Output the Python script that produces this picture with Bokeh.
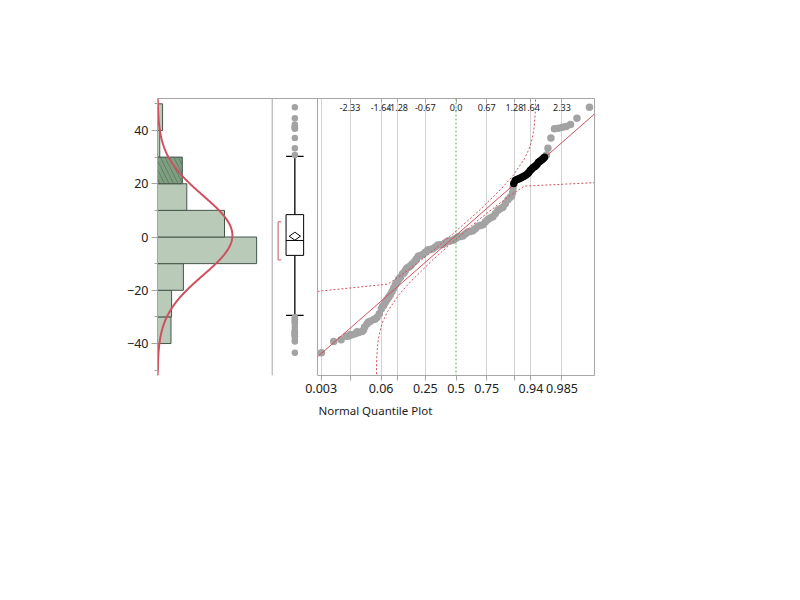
import math
import numpy as np
from bokeh.plotting import figure
from bokeh.models import (Range1d, LinearAxis, FixedTicker, Span,
                          Title, Grid)
from bokeh.embed import file_html
from bokeh.resources import INLINE

# ---------------- data ----------------
# histogram (bin lower edges, width 10) and counts
bin_lows = [-50, -40, -30, -20, -10, 0, 10, 20, 30, 40]
bin_counts = [1, 24, 25, 46, 176, 119, 52, 44, 4, 9]
bin_width = 10
selected_range = [20, 30]

# fitted normal
fit_mean = 0.6
fit_sd = 15.0

# box plot summary
q1, median, q3 = -6.9, -1.3, 8.4
whisker_low, whisker_high = -29.4, 30.3
mean_val, mean_ci = 0.3, 1.5
shortest_half = [-8.6, 5.7]

# normal quantile plot points (normal quantile, value)
nq_z = [-2.954, -2.684, -2.522, -2.406, -2.355, -2.32, -2.281, -2.208, -2.17, -2.136,
        -2.061, -2.03, -2.004, -1.952, -1.92, -1.879, -1.807, -1.77, -1.732, -1.682,
        -1.638, -1.61, -1.588, -1.550, -1.513, -1.478, -1.441, -1.404, -1.368, -1.331,
        -1.294, -1.259, -1.221, -1.171, -1.14, -1.112, -1.08, -1.039, -1.00, -0.965,
        -0.908, -0.871, -0.83, -0.783, -0.73, -0.673, -0.62, -0.564, -0.51, -0.454,
        -0.40, -0.344, -0.29, -0.235, -0.18, -0.125, -0.07, -0.015, 0.04, 0.094,
        0.15, 0.204, 0.26, 0.314, 0.37, 0.423, 0.48, 0.533, 0.59, 0.643,
        0.70, 0.752, 0.81, 0.862, 0.92, 0.971, 1.03, 1.081, 1.14, 1.191,
        1.22, 1.241, 1.252,
        1.268, 1.300, 1.338, 1.373, 1.410, 1.447, 1.482, 1.520, 1.557, 1.592,
        1.629, 1.667, 1.702, 1.739, 1.776, 1.811, 1.848, 1.886, 1.914, 1.943,
        1.987, 2.018, 2.083, 2.162, 2.250, 2.338, 2.419, 2.513, 2.654, 2.930]
nq_val = [-43.5, -39.2, -38.6, -37.3, -37.2, -36.6, -36.7, -36.3, -35.6, -35.9,
          -35.5, -34.9, -33.8, -32.6, -31.9, -31.6, -31.0, -30.8, -30.1, -28.8,
          -26.9, -25.9, -25.7, -24.5, -23.5, -22.6, -21.7, -20.5, -19.2, -17.9,
          -17.0, -15.9, -15.1, -13.8, -13.4, -12.6, -11.7, -11.3, -10.9, -10.1,
          -9.2, -8.4, -7.2, -6.9, -6.6, -5.7, -4.9, -4.7, -4.4, -3.8,
          -3.0, -2.9, -2.8, -2.2, -1.5, -1.4, -1.2, -0.7, 0.0, 0.2,
          0.4, 1.1, 1.9, 2.1, 2.3, 3.1, 4.0, 4.3, 4.6, 5.6,
          6.6, 7.1, 7.6, 8.7, 10.0, 10.6, 11.2, 12.5, 14.0, 14.9,
          15.4, 16.6, 18.4,
          20.1, 21.2, 21.6, 21.8, 22.1, 22.4, 22.7, 23.1, 23.6, 24.1,
          25.0, 25.6, 26.2, 26.6, 27.2, 28.1, 28.5, 29.0, 29.5, 29.9,
          30.8, 33.3, 37.2, 40.6, 40.8, 41.2, 41.5, 42.2, 44.6, 48.7]

# confidence bands (normal quantile, value)
upper_band_z = [-3.04, -1.5, -1.25, -1.0, -0.5, 0.0, 0.5, 1.0, 1.25, 1.5, 1.6, 1.65, 1.7, 1.72, 1.74, 1.748]
upper_band_y = [-20.4, -17.7, -14.9, -11.8, -5.1, 2.2, 9.8, 18.2, 23.0, 29.3, 32.9, 35.4, 39.3, 41.8, 46.9, 53.0]
lower_band_z = [-1.748, -1.74, -1.72, -1.7, -1.65, -1.6, -1.5, -1.25, -1.0, -0.5, 0.0, 0.5, 1.0, 1.25, 1.5, 3.04]
lower_band_y = [-53.0, -45.5, -40.4, -37.9, -34.0, -31.5, -27.9, -21.6, -16.8, -8.4, -0.8, 6.5, 13.2, 16.3, 19.1, 20.4]

# axes
y_major = [-40, -20, 0, 20, 40]
y_minor = [-50, -30, -10, 10, 30, 50]
prob_z_labeled = [-2.96, -1.645, -0.674, 0.0, 0.674, 1.645, 2.326]
prob_labels = ["0.003", "0.06", "0.25", "0.5", "0.75", "0.94", "0.985"]
prob_z_unlabeled = [-2.326, -1.282, 1.282]
z_ticks = [-2.326, -1.645, -1.282, -0.674, 0.0, 0.674, 1.282, 1.645, 2.326]
z_labels = ["-2.33", "-1.64", "-1.28", "-0.67", "0.0", "0.67", "1.28", "1.64", "2.33"]

# ---------------- styling ----------------
FONT = "Noto Sans"
FRAME = "#a6a6a6"
GRID = "#d2d2d2"
RED = "#cf4f5e"
POINT_GRAY = "#a3a3a3"
HIST_FILL = "#b9cab9"
HIST_LINE = "#44574a"
TXT = "#222222"

W, H = 700, 500
FL, FT, FW, FH = 157, 98, 437, 277

z_lo, z_hi = -3.04, 3.04
z_frame_left = -6.552

p = figure(width=W, height=H, output_backend="svg", toolbar_location=None,
           x_range=Range1d(z_frame_left, z_hi), y_range=Range1d(-52, 52),
           x_axis_type=None, y_axis_type=None,
           min_border_left=FL, min_border_top=FT,
           min_border_right=W - FL - FW, min_border_bottom=H - FT - FH)
p.outline_line_color = None
p.background_fill_color = "white"
p.border_fill_color = "white"

p.extra_x_ranges = {"hist": Range1d(0, 776), "box": Range1d(-2.532, 7.115)}

# ---- axes ----
yax = LinearAxis(ticker=FixedTicker(ticks=y_major, minor_ticks=y_minor))
yax.axis_line_color = FRAME
yax.major_tick_line_color = FRAME
yax.minor_tick_line_color = FRAME
yax.major_tick_out = 6
yax.major_tick_in = 0
yax.minor_tick_out = 3
yax.minor_tick_in = 0
yax.major_label_standoff = 3
yax.major_label_text_font = FONT
yax.major_label_text_font_size = "12.5px"
yax.major_label_text_color = TXT
p.add_layout(yax, "left")

xax = LinearAxis(ticker=FixedTicker(ticks=prob_z_labeled, minor_ticks=prob_z_unlabeled),
                 bounds=(z_lo, z_hi))
xax.major_label_overrides = {z: lab for z, lab in zip(prob_z_labeled, prob_labels)}
xax.axis_line_color = FRAME
xax.major_tick_line_color = FRAME
xax.minor_tick_line_color = FRAME
xax.major_tick_out = 5
xax.major_tick_in = 0
xax.minor_tick_out = 5
xax.minor_tick_in = 0
xax.major_label_standoff = 3
xax.major_label_text_font = FONT
xax.major_label_text_font_size = "12.5px"
xax.major_label_text_color = TXT
p.add_layout(xax, "below")

# top axis: frame top border + z-value ticks, labels drawn inside the frame
tax = LinearAxis(ticker=FixedTicker(ticks=z_ticks, minor_ticks=[]))
tax.major_label_overrides = {z: lab for z, lab in zip(z_ticks, z_labels)}
tax.axis_line_color = FRAME
tax.major_tick_line_color = FRAME
tax.major_tick_out = 0
tax.major_tick_in = 4
tax.major_label_standoff = -12
tax.major_label_text_font = FONT
tax.major_label_text_font_size = "9px"
tax.major_label_text_color = TXT
p.add_layout(tax, "above")

rax = LinearAxis(ticker=FixedTicker(ticks=[], minor_ticks=[]))
rax.axis_line_color = FRAME
rax.major_tick_out = 0
p.add_layout(rax, "right")

p.add_layout(Title(text="Normal Quantile Plot", align="left", offset=161,
                   text_font=FONT, text_font_size="11.5px", text_font_style="normal",
                   text_color=TXT, standoff=10), "below")

# ---- grid for quantile panel ----
grid = Grid(dimension=0,
            ticker=FixedTicker(ticks=[z for z in prob_z_labeled + prob_z_unlabeled if z != 0.0]),
            grid_line_color=GRID)
p.add_layout(grid)

# panel dividers
p.add_layout(Span(location=0, dimension="height", x_range_name="box", line_color=FRAME, line_width=1))
p.add_layout(Span(location=1, dimension="height", x_range_name="box", line_color=FRAME, line_width=1))

# ---- histogram ----
centers = [lo + bin_width / 2 for lo in bin_lows]
sel = [selected_range[0] <= lo < selected_range[1] for lo in bin_lows]
p.hbar(y=[c for c, s in zip(centers, sel) if not s], height=bin_width, left=0,
       right=[n for n, s in zip(bin_counts, sel) if not s], x_range_name="hist",
       fill_color=HIST_FILL, line_color=HIST_LINE, line_width=1)
p.hbar(y=[c for c, s in zip(centers, sel) if s], height=bin_width, left=0,
       right=[n for n, s in zip(bin_counts, sel) if s], x_range_name="hist",
       fill_color="#4e6e52", line_color=HIST_LINE, line_width=1,
       hatch_pattern="left_diagonal_line", hatch_color="#7f9d80", hatch_weight=3.5, hatch_scale=9)

n_total = sum(bin_counts)
curve_y = np.linspace(-52, 52, 300)
curve_x = n_total * bin_width * np.exp(-0.5 * ((curve_y - fit_mean) / fit_sd) ** 2) / (fit_sd * math.sqrt(2 * math.pi))
p.line(curve_x, curve_y, x_range_name="hist", line_color=RED, line_width=2)

# ---- box plot ----
bc, bw = 0.5, 0.388
p.segment(x0=[bc, bc], x1=[bc, bc], y0=[q3, q1], y1=[whisker_high, whisker_low],
          x_range_name="box", line_color="black", line_width=1.3)
p.segment(x0=[bc - bw / 2] * 2, x1=[bc + bw / 2] * 2, y0=[whisker_high, whisker_low],
          y1=[whisker_high, whisker_low], x_range_name="box", line_color="black", line_width=1.3)
p.quad(left=[bc - bw / 2], right=[bc + bw / 2], bottom=[q1], top=[q3], x_range_name="box",
       fill_color="white", line_color="black", line_width=1)
p.segment(x0=[bc - bw / 2], x1=[bc + bw / 2], y0=[median], y1=[median], x_range_name="box",
          line_color="black", line_width=1)
dw = 0.125
p.patch([bc - dw, bc, bc + dw, bc, bc - dw],
        [mean_val, mean_val + mean_ci, mean_val, mean_val - mean_ci, mean_val],
        x_range_name="box", fill_alpha=0.0, line_color="black", line_width=1)
outliers = [v for v in nq_val if v > whisker_high or v < whisker_low]
p.scatter(x=[bc] * len(outliers), y=outliers, x_range_name="box", size=6.5,
          fill_color=POINT_GRAY, line_color=None)
bx = 0.13
p.segment(x0=[bx, bx, bx], x1=[bx, bx + 0.07, bx + 0.07],
          y0=[shortest_half[0], shortest_half[0], shortest_half[1]],
          y1=[shortest_half[1], shortest_half[0], shortest_half[1]],
          x_range_name="box", line_color=RED, line_width=1)

# ---- normal quantile plot ----
p.add_layout(Span(location=0, dimension="height", line_color="#4fae5a", line_dash="2 2", line_width=1))

in_sel = [selected_range[0] <= v < selected_range[1] for v in nq_val]
gray_z = [z for z, s in zip(nq_z, in_sel) if not s]
gray_v = [v for v, s in zip(nq_val, in_sel) if not s]
sel_z = [z for z, s in zip(nq_z, in_sel) if s]
sel_v = [v for v, s in zip(nq_val, in_sel) if s]
p.scatter(gray_z, gray_v, size=7.5, fill_color=POINT_GRAY, line_color=None)

p.line([z_lo, z_hi], [fit_mean + fit_sd * z_lo, fit_mean + fit_sd * z_hi], line_color=RED, line_width=1)
p.line(upper_band_z, upper_band_y, line_color=RED, line_dash="2 2", line_width=1)
p.line(lower_band_z, lower_band_y, line_color=RED, line_dash="2 2", line_width=1)

p.scatter(sel_z, sel_v, size=7.5, fill_color="black", line_color=None)

open("out.html", "w").write(file_html(p, INLINE))
